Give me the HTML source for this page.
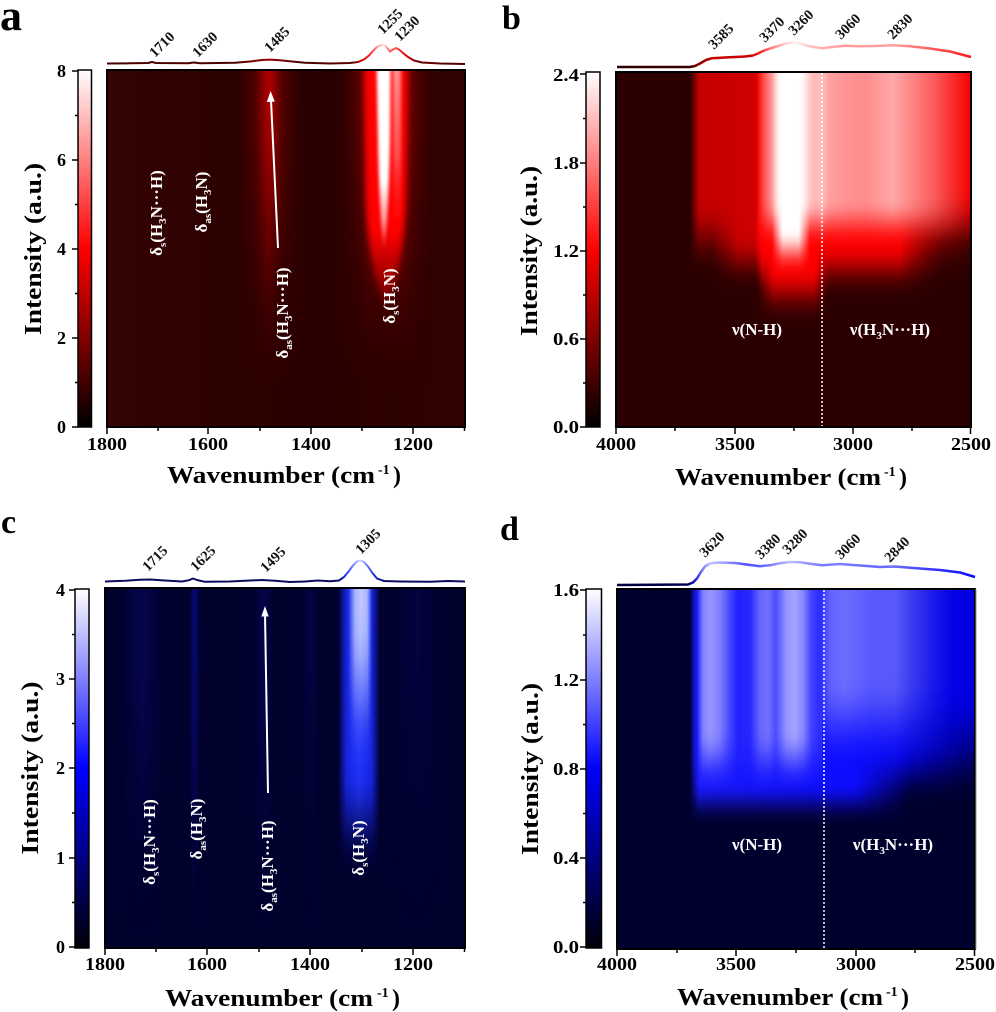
<!DOCTYPE html>
<html><head><meta charset="utf-8">
<style>
html,body{margin:0;padding:0;background:#fff;}
svg{display:block}
.tk{font-family:"Liberation Serif",serif;font-weight:bold;font-size:18px;fill:#000}
.pk{font-family:"Liberation Serif",serif;font-weight:bold;font-size:14.5px;fill:#111}
.ttl{font-family:"Liberation Serif",serif;font-weight:bold;font-size:24px;fill:#000}
.sup{font-family:"Liberation Serif",serif;font-weight:bold;font-size:14px;fill:#000}
.lb{font-family:"Liberation Serif",serif;font-weight:bold;font-size:17px;fill:#fff;text-anchor:middle}
.sb{font-size:11px}
.let{font-family:"Liberation Serif",serif;font-weight:bold;fill:#000}
</style></head><body>
<svg xmlns="http://www.w3.org/2000/svg" width="996" height="1012" viewBox="0 0 996 1012">
<defs>
<filter id="f15" filterUnits="userSpaceOnUse" x="300" y="0" width="200" height="450"><feGaussianBlur stdDeviation="1.5"/></filter>
<filter id="f36" filterUnits="userSpaceOnUse" x="300" y="0" width="200" height="450"><feGaussianBlur stdDeviation="3 6"/></filter>

<linearGradient id="cbR" x1="0" y1="1" x2="0" y2="0">
<stop offset="0" stop-color="#000"/><stop offset=".25" stop-color="#800000"/><stop offset=".5" stop-color="#ff0000"/><stop offset=".75" stop-color="#ff8080"/><stop offset="1" stop-color="#fff"/></linearGradient>
<linearGradient id="cbB" x1="0" y1="1" x2="0" y2="0">
<stop offset="0" stop-color="#000008"/><stop offset=".25" stop-color="#000080"/><stop offset=".5" stop-color="#0000ff"/><stop offset=".75" stop-color="#8080ff"/><stop offset="1" stop-color="#fff"/></linearGradient>

<!-- eased fade template (down) -->
<linearGradient id="eDown">
<stop offset="0" stop-color="#fff"/><stop offset=".15" stop-color="#fff" stop-opacity=".95"/><stop offset=".3" stop-color="#fff" stop-opacity=".8"/><stop offset=".5" stop-color="#fff" stop-opacity=".5"/><stop offset=".7" stop-color="#fff" stop-opacity=".2"/><stop offset=".85" stop-color="#fff" stop-opacity=".06"/><stop offset="1" stop-color="#fff" stop-opacity="0"/></linearGradient>
<linearGradient id="eUp">
<stop offset="0" stop-color="#fff" stop-opacity="0"/><stop offset=".15" stop-color="#fff" stop-opacity=".05"/><stop offset=".3" stop-color="#fff" stop-opacity=".2"/><stop offset=".5" stop-color="#fff" stop-opacity=".5"/><stop offset=".7" stop-color="#fff" stop-opacity=".8"/><stop offset=".85" stop-color="#fff" stop-opacity=".95"/><stop offset="1" stop-color="#fff"/></linearGradient>

<linearGradient id="vaP" href="#eDown" gradientUnits="userSpaceOnUse" x1="0" y1="60" x2="0" y2="390"/>
<linearGradient id="vaG" href="#eDown" gradientUnits="userSpaceOnUse" x1="0" y1="60" x2="0" y2="390"/>
<linearGradient id="vbA" href="#eDown" gradientUnits="userSpaceOnUse" x1="0" y1="200" x2="0" y2="275"/>
<linearGradient id="vbAx" href="#eDown" gradientUnits="userSpaceOnUse" x1="0" y1="228" x2="0" y2="292"/>
<linearGradient id="vbR" href="#eDown" gradientUnits="userSpaceOnUse" x1="0" y1="215" x2="0" y2="280"/>
<linearGradient id="vbRx" href="#eDown" gradientUnits="userSpaceOnUse" x1="0" y1="235" x2="0" y2="300"/>
<linearGradient id="vbR2" href="#eDown" gradientUnits="userSpaceOnUse" x1="0" y1="262" x2="0" y2="325"/>
<linearGradient id="vbW" href="#eDown" gradientUnits="userSpaceOnUse" x1="0" y1="198" x2="0" y2="248"/>
<linearGradient id="vbW2" href="#eDown" gradientUnits="userSpaceOnUse" x1="0" y1="228" x2="0" y2="274"/>
<linearGradient id="vbD" href="#eUp" gradientUnits="userSpaceOnUse" x1="0" y1="185" x2="0" y2="265"/>
<linearGradient id="vcB" href="#eDown" gradientUnits="userSpaceOnUse" x1="0" y1="765" x2="0" y2="875"/>
<linearGradient id="vcC" href="#eDown" gradientUnits="userSpaceOnUse" x1="0" y1="610" x2="0" y2="770"/>
<linearGradient id="vcF" href="#eDown" gradientUnits="userSpaceOnUse" x1="0" y1="620" x2="0" y2="940"/>
<linearGradient id="vdB" href="#eDown" gradientUnits="userSpaceOnUse" x1="0" y1="745" x2="0" y2="805"/>
<linearGradient id="vdBx" href="#eDown" gradientUnits="userSpaceOnUse" x1="0" y1="780" x2="0" y2="826"/>
<linearGradient id="vdD" href="#eUp" gradientUnits="userSpaceOnUse" x1="0" y1="690" x2="0" y2="790"/>
<linearGradient id="vdWA" href="#eDown" gradientUnits="userSpaceOnUse" x1="0" y1="728" x2="0" y2="792"/>
<linearGradient id="vdWB" href="#eDown" gradientUnits="userSpaceOnUse" x1="0" y1="675" x2="0" y2="768"/>

<mask id="maP" maskUnits="userSpaceOnUse" x="0" y="0" width="996" height="1012"><rect width="996" height="1012" fill="url(#vaP)"/></mask>
<mask id="maG" maskUnits="userSpaceOnUse" x="0" y="0" width="996" height="1012"><rect width="996" height="1012" fill="url(#vaG)"/></mask>
<mask id="mbA" maskUnits="userSpaceOnUse" x="0" y="0" width="996" height="1012"><rect width="996" height="1012" fill="url(#vbA)"/></mask>
<mask id="mbAx" maskUnits="userSpaceOnUse" x="0" y="0" width="996" height="1012"><rect width="996" height="1012" fill="url(#vbAx)"/></mask>
<mask id="mbR" maskUnits="userSpaceOnUse" x="0" y="0" width="996" height="1012"><rect width="996" height="1012" fill="url(#vbR)"/></mask>
<mask id="mbRx" maskUnits="userSpaceOnUse" x="0" y="0" width="996" height="1012"><rect width="996" height="1012" fill="url(#vbRx)"/></mask>
<mask id="mbR2" maskUnits="userSpaceOnUse" x="0" y="0" width="996" height="1012"><rect width="996" height="1012" fill="url(#vbR2)"/></mask>
<mask id="mbW" maskUnits="userSpaceOnUse" x="0" y="0" width="996" height="1012"><rect width="996" height="1012" fill="url(#vbW)"/></mask>
<mask id="mbW2" maskUnits="userSpaceOnUse" x="0" y="0" width="996" height="1012"><rect width="996" height="1012" fill="url(#vbW2)"/></mask>
<mask id="mbD" maskUnits="userSpaceOnUse" x="0" y="0" width="996" height="1012"><rect width="996" height="1012" fill="url(#vbD)"/></mask>
<mask id="mcB" maskUnits="userSpaceOnUse" x="0" y="0" width="996" height="1012"><rect width="996" height="1012" fill="url(#vcB)"/></mask>
<mask id="mcC" maskUnits="userSpaceOnUse" x="0" y="0" width="996" height="1012"><rect width="996" height="1012" fill="url(#vcC)"/></mask>
<mask id="mcF" maskUnits="userSpaceOnUse" x="0" y="0" width="996" height="1012"><rect width="996" height="1012" fill="url(#vcF)"/></mask>
<mask id="mdB" maskUnits="userSpaceOnUse" x="0" y="0" width="996" height="1012"><rect width="996" height="1012" fill="url(#vdB)"/></mask>
<mask id="mdBx" maskUnits="userSpaceOnUse" x="0" y="0" width="996" height="1012"><rect width="996" height="1012" fill="url(#vdBx)"/></mask>
<mask id="mdD" maskUnits="userSpaceOnUse" x="0" y="0" width="996" height="1012"><rect width="996" height="1012" fill="url(#vdD)"/></mask>
<mask id="mdWA" maskUnits="userSpaceOnUse" x="0" y="0" width="996" height="1012"><rect width="996" height="1012" fill="url(#vdWA)"/></mask>
<mask id="mdWB" maskUnits="userSpaceOnUse" x="0" y="0" width="996" height="1012"><rect width="996" height="1012" fill="url(#vdWB)"/></mask>

<!-- panel a -->
<linearGradient id="aBg" gradientUnits="userSpaceOnUse" x1="107" y1="0" x2="465" y2="0">
<stop offset="0" stop-color="#360404"/><stop offset=".12" stop-color="#320202"/><stop offset=".3" stop-color="#2e0101"/><stop offset=".6" stop-color="#2c0000"/><stop offset=".85" stop-color="#2f0101"/><stop offset="1" stop-color="#320202"/></linearGradient>
<linearGradient id="h1485" gradientUnits="userSpaceOnUse" x1="238" y1="0" x2="300" y2="0">
<stop offset="0" stop-color="#600000" stop-opacity="0"/><stop offset=".27" stop-color="#6a0000" stop-opacity=".6"/><stop offset=".42" stop-color="#a00000" stop-opacity=".9"/><stop offset=".5" stop-color="#b40000"/><stop offset=".58" stop-color="#a00000" stop-opacity=".9"/><stop offset=".73" stop-color="#6a0000" stop-opacity=".6"/><stop offset="1" stop-color="#600000" stop-opacity="0"/></linearGradient>
<linearGradient id="hGlow" gradientUnits="userSpaceOnUse" x1="340" y1="0" x2="432" y2="0">
<stop offset="0" stop-color="#600000" stop-opacity="0"/><stop offset=".2" stop-color="#700000" stop-opacity=".6"/><stop offset=".3" stop-color="#a00000" stop-opacity=".85"/><stop offset=".7" stop-color="#a00000" stop-opacity=".85"/><stop offset=".82" stop-color="#700000" stop-opacity=".6"/><stop offset="1" stop-color="#600000" stop-opacity="0"/></linearGradient>
<linearGradient id="aRed" gradientUnits="userSpaceOnUse" x1="0" y1="70" x2="0" y2="330">
<stop offset="0" stop-color="#ff0000"/><stop offset=".62" stop-color="#ff0000"/><stop offset=".82" stop-color="#d00000" stop-opacity=".6"/><stop offset="1" stop-color="#a00000" stop-opacity="0"/></linearGradient>
<linearGradient id="a1230" gradientUnits="userSpaceOnUse" x1="0" y1="70" x2="0" y2="240">
<stop offset="0" stop-color="#ff9090"/><stop offset=".5" stop-color="#ff6060" stop-opacity=".8"/><stop offset="1" stop-color="#ff0000" stop-opacity="0"/></linearGradient>
<linearGradient id="aW" gradientUnits="userSpaceOnUse" x1="0" y1="70" x2="0" y2="255">
<stop offset="0" stop-color="#fff"/><stop offset=".6" stop-color="#fff"/><stop offset=".82" stop-color="#ffd8d8" stop-opacity=".7"/><stop offset="1" stop-color="#ffa0a0" stop-opacity="0"/></linearGradient>
<linearGradient id="aLine" gradientUnits="userSpaceOnUse" x1="107" y1="0" x2="465" y2="0">
<stop offset="0" stop-color="#4a0000"/><stop offset=".358" stop-color="#4a0000"/><stop offset=".45" stop-color="#9a0000"/><stop offset=".539" stop-color="#4a0000"/><stop offset=".684" stop-color="#5a0000"/><stop offset=".712" stop-color="#c00000"/><stop offset=".735" stop-color="#ff2020"/><stop offset=".757" stop-color="#ffa0a0"/><stop offset=".774" stop-color="#ffe0e0"/><stop offset=".788" stop-color="#ff6060"/><stop offset=".807" stop-color="#ff5050"/><stop offset=".832" stop-color="#e00000"/><stop offset=".869" stop-color="#700000"/><stop offset="1" stop-color="#4a0000"/></linearGradient>

<!-- panel b -->
<linearGradient id="hbA" gradientUnits="userSpaceOnUse" x1="690" y1="0" x2="765" y2="0">
<stop offset="0" stop-color="#c00000" stop-opacity="0"/><stop offset=".12" stop-color="#c40000"/><stop offset=".67" stop-color="#cc0000"/><stop offset="1" stop-color="#d40000"/></linearGradient>
<linearGradient id="hbAx" gradientUnits="userSpaceOnUse" x1="712" y1="0" x2="765" y2="0">
<stop offset="0" stop-color="#c80000" stop-opacity="0"/><stop offset=".5" stop-color="#cc0000"/><stop offset="1" stop-color="#d40000"/></linearGradient>
<linearGradient id="hbR" gradientUnits="userSpaceOnUse" x1="755" y1="0" x2="971" y2="0">
<stop offset="0" stop-color="#ff0000" stop-opacity="0"/><stop offset=".035" stop-color="#ff0000"/><stop offset="1" stop-color="#f80000"/></linearGradient>
<linearGradient id="hbRx" gradientUnits="userSpaceOnUse" x1="755" y1="0" x2="945" y2="0">
<stop offset="0" stop-color="#ff0000" stop-opacity="0"/><stop offset=".04" stop-color="#ff0000"/><stop offset=".76" stop-color="#ff0000"/><stop offset="1" stop-color="#ff0000" stop-opacity="0"/></linearGradient>
<linearGradient id="hbR2" gradientUnits="userSpaceOnUse" x1="758" y1="0" x2="828" y2="0">
<stop offset="0" stop-color="#ff0000" stop-opacity="0"/><stop offset=".22" stop-color="#ff0000"/><stop offset=".8" stop-color="#ff0000"/><stop offset="1" stop-color="#ff0000" stop-opacity="0"/></linearGradient>
<linearGradient id="hbW" gradientUnits="userSpaceOnUse" x1="757" y1="0" x2="990" y2="0">
<stop offset="0" stop-color="#fff" stop-opacity="0"/><stop offset=".034" stop-color="#fff" stop-opacity=".35"/><stop offset=".064" stop-color="#fff" stop-opacity=".6"/><stop offset=".099" stop-color="#fff" stop-opacity=".9"/><stop offset=".129" stop-color="#fff" stop-opacity="1"/><stop offset=".172" stop-color="#fff" stop-opacity="1"/><stop offset=".206" stop-color="#fff" stop-opacity=".85"/><stop offset=".249" stop-color="#fff" stop-opacity=".72"/><stop offset=".279" stop-color="#fff" stop-opacity=".75"/><stop offset=".313" stop-color="#fff" stop-opacity=".62"/><stop offset=".378" stop-color="#fff" stop-opacity=".58"/><stop offset=".464" stop-color="#fff" stop-opacity=".55"/><stop offset=".584" stop-color="#fff" stop-opacity=".66"/><stop offset=".678" stop-color="#fff" stop-opacity=".5"/><stop offset=".764" stop-color="#fff" stop-opacity=".35"/><stop offset=".85" stop-color="#fff" stop-opacity=".15"/><stop offset=".918" stop-color="#fff" stop-opacity="0"/></linearGradient>
<linearGradient id="hbW2" gradientUnits="userSpaceOnUse" x1="772" y1="0" x2="810" y2="0">
<stop offset="0" stop-color="#fff" stop-opacity="0"/><stop offset=".28" stop-color="#fff"/><stop offset=".7" stop-color="#fff"/><stop offset="1" stop-color="#fff" stop-opacity="0"/></linearGradient>
<linearGradient id="hbD" gradientUnits="userSpaceOnUse" x1="900" y1="0" x2="971" y2="0">
<stop offset="0" stop-color="#2c0000" stop-opacity="0"/><stop offset="1" stop-color="#2c0000" stop-opacity=".9"/></linearGradient>
<linearGradient id="bLine" gradientUnits="userSpaceOnUse" x1="617" y1="0" x2="971" y2="0">
<stop offset="0" stop-color="#2a0000"/><stop offset=".206" stop-color="#3a0000"/><stop offset=".229" stop-color="#8a0000"/><stop offset=".263" stop-color="#c00000"/><stop offset=".376" stop-color="#d00000"/><stop offset=".404" stop-color="#ff2020"/><stop offset=".438" stop-color="#ff8080"/><stop offset=".475" stop-color="#ffd0d0"/><stop offset=".503" stop-color="#fff0f0"/><stop offset=".54" stop-color="#ffc8c8"/><stop offset=".58" stop-color="#ffb0b0"/><stop offset=".644" stop-color="#ff9a9a"/><stop offset=".78" stop-color="#ffa0a0"/><stop offset=".884" stop-color="#ff6060"/><stop offset="1" stop-color="#ff1818"/></linearGradient>

<!-- panel c -->
<linearGradient id="hc1305" gradientUnits="userSpaceOnUse" x1="338" y1="0" x2="380" y2="0">
<stop offset="0" stop-color="#1a2aff" stop-opacity="0"/><stop offset=".2" stop-color="#1a2aff" stop-opacity=".85"/><stop offset=".5" stop-color="#2035ff"/><stop offset=".8" stop-color="#1a2aff" stop-opacity=".85"/><stop offset="1" stop-color="#1a2aff" stop-opacity="0"/></linearGradient>
<linearGradient id="hcCore" gradientUnits="userSpaceOnUse" x1="348" y1="0" x2="372" y2="0">
<stop offset="0" stop-color="#a8b4ff" stop-opacity="0"/><stop offset=".3" stop-color="#a8b4ff"/><stop offset=".55" stop-color="#c0c8ff"/><stop offset=".8" stop-color="#a8b4ff"/><stop offset="1" stop-color="#a8b4ff" stop-opacity="0"/></linearGradient>
<linearGradient id="hcF" x1="0" y1="0" x2="1" y2="0">
<stop offset="0" stop-color="#0a0a70" stop-opacity="0"/><stop offset=".5" stop-color="#0a0a70"/><stop offset="1" stop-color="#0a0a70" stop-opacity="0"/></linearGradient>
<linearGradient id="hcF2" x1="0" y1="0" x2="1" y2="0">
<stop offset="0" stop-color="#1010b0" stop-opacity="0"/><stop offset=".5" stop-color="#1010b0"/><stop offset="1" stop-color="#1010b0" stop-opacity="0"/></linearGradient>
<linearGradient id="cLine" gradientUnits="userSpaceOnUse" x1="105" y1="0" x2="465" y2="0">
<stop offset="0" stop-color="#0c0c5a"/><stop offset=".647" stop-color="#0c0c5a"/><stop offset=".669" stop-color="#2030ff"/><stop offset=".692" stop-color="#8090ff"/><stop offset=".708" stop-color="#d0d8ff"/><stop offset=".725" stop-color="#7080ff"/><stop offset=".747" stop-color="#2030e0"/><stop offset=".778" stop-color="#0c0c60"/><stop offset="1" stop-color="#0c0c5a"/></linearGradient>

<!-- panel d -->
<linearGradient id="hdB" gradientUnits="userSpaceOnUse" x1="690" y1="0" x2="975" y2="0">
<stop offset="0" stop-color="#1a1aff" stop-opacity="0"/><stop offset=".032" stop-color="#1a1aff"/><stop offset=".53" stop-color="#0c0cff"/><stop offset="1" stop-color="#0000e0"/></linearGradient>
<linearGradient id="hdBx" gradientUnits="userSpaceOnUse" x1="690" y1="0" x2="910" y2="0">
<stop offset="0" stop-color="#1a1aff" stop-opacity="0"/><stop offset=".042" stop-color="#1a1aff"/><stop offset=".75" stop-color="#0c0cff"/><stop offset="1" stop-color="#0c0cff" stop-opacity="0"/></linearGradient>
<linearGradient id="hdD" gradientUnits="userSpaceOnUse" x1="900" y1="0" x2="975" y2="0">
<stop offset="0" stop-color="#00002e" stop-opacity="0"/><stop offset="1" stop-color="#00002e" stop-opacity=".8"/></linearGradient>
<linearGradient id="hdW" gradientUnits="userSpaceOnUse" x1="697" y1="0" x2="990" y2="0">
<stop offset="0" stop-color="#fff" stop-opacity="0"/><stop offset=".02" stop-color="#fff" stop-opacity=".45"/><stop offset=".044" stop-color="#fff" stop-opacity=".55"/><stop offset=".078" stop-color="#fff" stop-opacity=".45"/><stop offset=".113" stop-color="#fff" stop-opacity=".2"/><stop offset=".14" stop-color="#fff" stop-opacity=".05"/><stop offset=".181" stop-color="#fff" stop-opacity=".08"/><stop offset=".215" stop-color="#fff" stop-opacity=".35"/><stop offset=".242" stop-color="#fff" stop-opacity=".4"/><stop offset=".269" stop-color="#fff" stop-opacity=".25"/><stop offset=".304" stop-color="#fff" stop-opacity=".55"/><stop offset=".334" stop-color="#fff" stop-opacity=".62"/><stop offset=".362" stop-color="#fff" stop-opacity=".5"/><stop offset=".392" stop-color="#fff" stop-opacity=".2"/><stop offset=".42" stop-color="#fff" stop-opacity=".12"/><stop offset=".454" stop-color="#fff" stop-opacity=".35"/><stop offset=".505" stop-color="#fff" stop-opacity=".4"/><stop offset=".59" stop-color="#fff" stop-opacity=".33"/><stop offset=".676" stop-color="#fff" stop-opacity=".33"/><stop offset=".744" stop-color="#fff" stop-opacity=".2"/><stop offset=".812" stop-color="#fff" stop-opacity=".08"/><stop offset=".88" stop-color="#fff" stop-opacity="0"/></linearGradient>
<linearGradient id="dLine" gradientUnits="userSpaceOnUse" x1="617" y1="0" x2="975" y2="0">
<stop offset="0" stop-color="#00003a"/><stop offset=".198" stop-color="#000050"/><stop offset=".218" stop-color="#1a1ae0"/><stop offset=".24" stop-color="#8080ff"/><stop offset=".26" stop-color="#c0c0ff"/><stop offset=".302" stop-color="#a0a0ff"/><stop offset=".358" stop-color="#5050ff"/><stop offset=".4" stop-color="#6060ff"/><stop offset=".441" stop-color="#8a8aff"/><stop offset=".483" stop-color="#c0c0ff"/><stop offset=".525" stop-color="#9a9aff"/><stop offset=".573" stop-color="#7a7aff"/><stop offset=".623" stop-color="#8080ff"/><stop offset=".707" stop-color="#6a6aff"/><stop offset=".777" stop-color="#6a6aff"/><stop offset=".874" stop-color="#3838ff"/><stop offset="1" stop-color="#0a0aff"/></linearGradient>

<clipPath id="ca"><rect x="107" y="70" width="358" height="357"/></clipPath>
</defs>

<!-- ================= PANEL A ================= -->
<text class="let" x="0" y="30" font-size="44">a</text>
<polyline fill="none" stroke="url(#aLine)" stroke-width="2" stroke-linejoin="round" points="107,63.5 130,63.3 148,63 152,62 156,63 188,63.2 194,62.5 200,63.2 235,62.8 250,61.5 262,60 270,59.6 280,60.2 292,61.5 305,62.8 330,63.5 350,63 358,62 364,59.5 369,55.5 373,51 377,47 381,45 385,45.5 388,49 390,51.5 393,49.5 396,48 399,49.5 403,53 408,57 414,60.5 422,62.5 440,63.5 465,64"/>
<text class="pk" transform="translate(155,58) rotate(-45)">1710</text>
<text class="pk" transform="translate(198,58) rotate(-45)">1630</text>
<text class="pk" transform="translate(270,53) rotate(-45)">1485</text>
<text class="pk" transform="translate(383,35) rotate(-45)">1255</text>
<text class="pk" transform="translate(400,42) rotate(-45)">1230</text>

<rect x="107" y="70" width="358" height="357" fill="url(#aBg)"/>
<rect x="238" y="70" width="62" height="357" fill="url(#h1485)" mask="url(#maP)"/>
<rect x="340" y="70" width="92" height="357" fill="url(#hGlow)" mask="url(#maG)"/>
<g clip-path="url(#ca)">
<path d="M364,30 L408,30 L406,200 C404,250 396,290 386,305 C376,290 368,250 366,200 Z" fill="url(#aRed)" filter="url(#f36)"/>
<rect x="393" y="30" width="8" height="220" fill="url(#a1230)" filter="url(#f15)"/>
<path d="M376,30 L391,30 L390,140 C389,190 387,230 384,250 C381,230 379,190 378,140 Z" fill="url(#aW)" filter="url(#f15)"/>
</g>
<rect x="107" y="70" width="358" height="357" fill="none" stroke="#000" stroke-width="2"/>
<line x1="278" y1="248" x2="271" y2="100" stroke="#fff" stroke-width="2"/>
<polygon points="270.6,91 266.8,102 274.8,101.6" fill="#fff"/>
<text class="lb" transform="translate(162,213) rotate(-90)">δ<tspan class="sb" dy="4">s</tspan><tspan dy="-4">(H</tspan><tspan class="sb" dy="4">3</tspan><tspan dy="-4">N···H)</tspan></text>
<text class="lb" transform="translate(207,202) rotate(-90)">δ<tspan class="sb" dy="4">as</tspan><tspan dy="-4">(H</tspan><tspan class="sb" dy="4">3</tspan><tspan dy="-4">N)</tspan></text>
<text class="lb" transform="translate(288,313) rotate(-90)">δ<tspan class="sb" dy="4">as</tspan><tspan dy="-4">(H</tspan><tspan class="sb" dy="4">3</tspan><tspan dy="-4">N···H)</tspan></text>
<text class="lb" transform="translate(395,296) rotate(-90)">δ<tspan class="sb" dy="4">s</tspan><tspan dy="-4">(H</tspan><tspan class="sb" dy="4">3</tspan><tspan dy="-4">N)</tspan></text>
<rect x="78" y="70" width="13.5" height="357" fill="url(#cbR)" stroke="#000" stroke-width="1.5"/>
<g stroke="#000" stroke-width="1.5">
<line x1="72" y1="71" x2="78" y2="71"/><line x1="72" y1="160" x2="78" y2="160"/><line x1="72" y1="249" x2="78" y2="249"/><line x1="72" y1="338" x2="78" y2="338"/><line x1="72" y1="427" x2="78" y2="427"/>
<line x1="75" y1="115.5" x2="78" y2="115.5"/><line x1="75" y1="204.5" x2="78" y2="204.5"/><line x1="75" y1="293.5" x2="78" y2="293.5"/><line x1="75" y1="382.5" x2="78" y2="382.5"/>
</g>
<g class="tk" text-anchor="end">
<text x="66" y="77">8</text><text x="66" y="166">6</text><text x="66" y="255">4</text><text x="66" y="344">2</text><text x="66" y="433">0</text>
</g>
<g stroke="#000" stroke-width="1.5">
<line x1="107" y1="427" x2="107" y2="434"/><line x1="208" y1="427" x2="208" y2="434"/><line x1="311" y1="427" x2="311" y2="434"/><line x1="413" y1="427" x2="413" y2="434"/>
<line x1="158" y1="427" x2="158" y2="431"/><line x1="260" y1="427" x2="260" y2="431"/><line x1="362" y1="427" x2="362" y2="431"/><line x1="464.5" y1="427" x2="464.5" y2="431"/>
</g>
<g class="tk" text-anchor="middle">
<text x="107" y="450" textLength="40" lengthAdjust="spacingAndGlyphs">1800</text>
<text x="208" y="450" textLength="40" lengthAdjust="spacingAndGlyphs">1600</text>
<text x="311" y="450" textLength="40" lengthAdjust="spacingAndGlyphs">1400</text>
<text x="413" y="450" textLength="40" lengthAdjust="spacingAndGlyphs">1200</text>
</g>
<text class="ttl" x="167" y="483" textLength="208" lengthAdjust="spacingAndGlyphs">Wavenumber (cm</text>
<text class="sup" x="378" y="474">-1</text>
<text class="ttl" x="393" y="483">)</text>
<text class="ttl" transform="translate(41,249) rotate(-90)" text-anchor="middle" textLength="172" lengthAdjust="spacingAndGlyphs">Intensity (a.u.)</text>

<!-- ================= PANEL B ================= -->
<text class="let" x="502" y="29" font-size="34">b</text>
<polyline fill="none" stroke="url(#bLine)" stroke-width="2.5" stroke-linejoin="round" points="617,67 690,67 695,66 700,63.5 706,60 712,58.2 725,57.5 745,56.5 753,55.5 758,53.5 763,51 770,48.5 778,46 786,43.5 793,42.5 799,43.2 806,45.5 814,47 822,48.2 830,47.3 845,45.8 860,46.3 875,46 893,45.2 910,46.2 930,48.5 950,51.5 971,57"/>
<text class="pk" transform="translate(714,50) rotate(-45)">3585</text>
<text class="pk" transform="translate(765,43) rotate(-45)">3370</text>
<text class="pk" transform="translate(794,36) rotate(-45)">3260</text>
<text class="pk" transform="translate(841,40) rotate(-45)">3060</text>
<text class="pk" transform="translate(893,40) rotate(-45)">2830</text>

<rect x="616" y="72" width="355" height="355" fill="#2c0000"/>
<rect x="690" y="72" width="75" height="355" fill="url(#hbA)" mask="url(#mbA)"/>
<rect x="712" y="72" width="53" height="355" fill="url(#hbAx)" mask="url(#mbAx)"/>
<rect x="755" y="72" width="216" height="355" fill="url(#hbR)" mask="url(#mbR)"/>
<rect x="755" y="72" width="190" height="355" fill="url(#hbRx)" mask="url(#mbRx)"/>
<rect x="758" y="72" width="70" height="355" fill="url(#hbR2)" mask="url(#mbR2)"/>
<rect x="900" y="72" width="71" height="355" fill="url(#hbD)" mask="url(#mbD)"/>
<rect x="757" y="72" width="214" height="355" fill="url(#hbW)" mask="url(#mbW)"/>
<rect x="772" y="72" width="38" height="355" fill="url(#hbW2)" mask="url(#mbW2)"/>
<rect x="616" y="72" width="355" height="355" fill="none" stroke="#000" stroke-width="2"/>
<line x1="822" y1="73" x2="822" y2="426" stroke="#fff" stroke-width="1.5" stroke-dasharray="2,2"/>
<text class="lb" x="757" y="335">ν(N-H)</text>
<text class="lb" x="890" y="335">ν(H<tspan class="sb" dy="4">3</tspan><tspan dy="-4">N···H)</tspan></text>
<rect x="586" y="72" width="14" height="355" fill="url(#cbR)" stroke="#000" stroke-width="1.5"/>
<g stroke="#000" stroke-width="1.5">
<line x1="580" y1="74" x2="586" y2="74"/><line x1="580" y1="163" x2="586" y2="163"/><line x1="580" y1="251" x2="586" y2="251"/><line x1="580" y1="339" x2="586" y2="339"/><line x1="580" y1="427" x2="586" y2="427"/>
<line x1="583" y1="118.5" x2="586" y2="118.5"/><line x1="583" y1="207" x2="586" y2="207"/><line x1="583" y1="295" x2="586" y2="295"/><line x1="583" y1="383" x2="586" y2="383"/>
</g>
<g class="tk" text-anchor="end">
<text x="579" y="81" textLength="26" lengthAdjust="spacingAndGlyphs">2.4</text>
<text x="579" y="169" textLength="26" lengthAdjust="spacingAndGlyphs">1.8</text>
<text x="579" y="257" textLength="26" lengthAdjust="spacingAndGlyphs">1.2</text>
<text x="579" y="345" textLength="26" lengthAdjust="spacingAndGlyphs">0.6</text>
<text x="579" y="433" textLength="26" lengthAdjust="spacingAndGlyphs">0.0</text>
</g>
<g stroke="#000" stroke-width="1.5">
<line x1="616" y1="427" x2="616" y2="434"/><line x1="735" y1="427" x2="735" y2="434"/><line x1="853" y1="427" x2="853" y2="434"/><line x1="970.5" y1="427" x2="970.5" y2="434"/>
<line x1="675" y1="427" x2="675" y2="431"/><line x1="794" y1="427" x2="794" y2="431"/><line x1="912" y1="427" x2="912" y2="431"/>
</g>
<g class="tk" text-anchor="middle">
<text x="616" y="450" textLength="40" lengthAdjust="spacingAndGlyphs">4000</text>
<text x="735" y="450" textLength="40" lengthAdjust="spacingAndGlyphs">3500</text>
<text x="853" y="450" textLength="40" lengthAdjust="spacingAndGlyphs">3000</text>
<text x="971" y="450" textLength="40" lengthAdjust="spacingAndGlyphs">2500</text>
</g>
<text class="ttl" x="675" y="485" textLength="206" lengthAdjust="spacingAndGlyphs">Wavenumber (cm</text>
<text class="sup" x="884" y="476">-1</text>
<text class="ttl" x="899" y="485">)</text>
<text class="ttl" transform="translate(537,251) rotate(-90)" text-anchor="middle" textLength="170" lengthAdjust="spacingAndGlyphs">Intensity (a.u.)</text>

<!-- ================= PANEL C ================= -->
<text class="let" x="1" y="533" font-size="34">c</text>
<polyline fill="none" stroke="url(#cLine)" stroke-width="2" stroke-linejoin="round" points="105,581.5 125,580.8 140,579.7 150,579.5 165,580.5 182,581.5 189,580.2 193,578.5 197,580 205,581.8 230,581.5 250,580.5 262,580 275,580.8 290,582 305,581.5 318,580.5 330,581.2 339,580.5 344,577 349,571 353,565.5 357,561.5 360,560.5 364,562 368,566.5 372,572.5 377,578.5 384,581 400,581.5 430,581.8 448,581 465,581.5"/>
<text class="pk" transform="translate(148,572) rotate(-45)">1715</text>
<text class="pk" transform="translate(196,572) rotate(-45)">1625</text>
<text class="pk" transform="translate(266,573) rotate(-45)">1495</text>
<text class="pk" transform="translate(361,555) rotate(-45)">1305</text>

<rect x="105" y="588" width="360" height="360" fill="#01012e"/>
<rect x="120" y="588" width="45" height="360" fill="url(#hcF)" opacity=".5" mask="url(#mcF)"/>
<rect x="189" y="588" width="11" height="360" fill="url(#hcF2)" opacity=".55" mask="url(#mcF)"/>
<rect x="252" y="588" width="22" height="360" fill="url(#hcF)" opacity=".45" mask="url(#mcF)"/>
<rect x="300" y="588" width="20" height="360" fill="url(#hcF)" opacity=".3" mask="url(#mcF)"/>
<rect x="390" y="588" width="55" height="360" fill="url(#hcF)" opacity=".25" mask="url(#mcF)"/>
<rect x="338" y="588" width="42" height="360" fill="url(#hc1305)" mask="url(#mcB)"/>
<rect x="348" y="588" width="24" height="360" fill="url(#hcCore)" mask="url(#mcC)"/>
<rect x="105" y="588" width="360" height="360" fill="none" stroke="#000" stroke-width="2"/>
<line x1="268" y1="793" x2="265" y2="614" stroke="#fff" stroke-width="2"/>
<polygon points="265,606 261.3,616.5 268.7,616.5" fill="#fff"/>
<text class="lb" transform="translate(155,842) rotate(-90)">δ<tspan class="sb" dy="4">s</tspan><tspan dy="-4">(H</tspan><tspan class="sb" dy="4">3</tspan><tspan dy="-4">N···H)</tspan></text>
<text class="lb" transform="translate(202,829) rotate(-90)">δ<tspan class="sb" dy="4">as</tspan><tspan dy="-4">(H</tspan><tspan class="sb" dy="4">3</tspan><tspan dy="-4">N)</tspan></text>
<text class="lb" transform="translate(273,866) rotate(-90)">δ<tspan class="sb" dy="4">as</tspan><tspan dy="-4">(H</tspan><tspan class="sb" dy="4">3</tspan><tspan dy="-4">N···H)</tspan></text>
<text class="lb" transform="translate(364,848) rotate(-90)">δ<tspan class="sb" dy="4">s</tspan><tspan dy="-4">(H</tspan><tspan class="sb" dy="4">3</tspan><tspan dy="-4">N)</tspan></text>
<rect x="75" y="589" width="14" height="359" fill="url(#cbB)" stroke="#000" stroke-width="1.5"/>
<g stroke="#000" stroke-width="1.5">
<line x1="69" y1="590" x2="75" y2="590"/><line x1="69" y1="679" x2="75" y2="679"/><line x1="69" y1="768" x2="75" y2="768"/><line x1="69" y1="858" x2="75" y2="858"/><line x1="69" y1="947" x2="75" y2="947"/>
<line x1="72" y1="634.5" x2="75" y2="634.5"/><line x1="72" y1="723.5" x2="75" y2="723.5"/><line x1="72" y1="813" x2="75" y2="813"/><line x1="72" y1="902.5" x2="75" y2="902.5"/>
</g>
<g class="tk" text-anchor="end">
<text x="65" y="596">4</text><text x="65" y="685">3</text><text x="65" y="774">2</text><text x="65" y="864">1</text><text x="65" y="953">0</text>
</g>
<g stroke="#000" stroke-width="1.5">
<line x1="105" y1="948" x2="105" y2="955"/><line x1="207" y1="948" x2="207" y2="955"/><line x1="310" y1="948" x2="310" y2="955"/><line x1="413" y1="948" x2="413" y2="955"/>
<line x1="156" y1="948" x2="156" y2="952"/><line x1="259" y1="948" x2="259" y2="952"/><line x1="362" y1="948" x2="362" y2="952"/><line x1="464.5" y1="948" x2="464.5" y2="952"/>
</g>
<g class="tk" text-anchor="middle">
<text x="105" y="970" textLength="40" lengthAdjust="spacingAndGlyphs">1800</text>
<text x="207" y="970" textLength="40" lengthAdjust="spacingAndGlyphs">1600</text>
<text x="310" y="970" textLength="40" lengthAdjust="spacingAndGlyphs">1400</text>
<text x="413" y="970" textLength="40" lengthAdjust="spacingAndGlyphs">1200</text>
</g>
<text class="ttl" x="165" y="1006" textLength="208" lengthAdjust="spacingAndGlyphs">Wavenumber (cm</text>
<text class="sup" x="377" y="997">-1</text>
<text class="ttl" x="392" y="1006">)</text>
<text class="ttl" transform="translate(38,768) rotate(-90)" text-anchor="middle" textLength="173" lengthAdjust="spacingAndGlyphs">Intensity (a.u.)</text>

<!-- ================= PANEL D ================= -->
<text class="let" x="500" y="540" font-size="34">d</text>
<polyline fill="none" stroke="url(#dLine)" stroke-width="2.5" stroke-linejoin="round" points="617,585 688,584.5 693,582.5 697,578.5 701,572 705,566.5 710,563.5 718,562.5 735,563 750,565 760,566.2 770,565.3 780,563.2 790,562 800,562.3 812,564 822,565.2 840,564 860,565.5 880,567 895,566.5 910,567.8 940,570 960,572.5 975,577"/>
<text class="pk" transform="translate(705,558) rotate(-45)">3620</text>
<text class="pk" transform="translate(761,560) rotate(-45)">3380</text>
<text class="pk" transform="translate(788,555) rotate(-45)">3280</text>
<text class="pk" transform="translate(841,560) rotate(-45)">3060</text>
<text class="pk" transform="translate(890,563) rotate(-45)">2840</text>

<rect x="617" y="589" width="358" height="360" fill="#00002e"/>
<rect x="690" y="589" width="285" height="360" fill="url(#hdB)" mask="url(#mdB)"/>
<rect x="690" y="589" width="220" height="360" fill="url(#hdBx)" mask="url(#mdBx)"/>
<rect x="900" y="589" width="75" height="360" fill="url(#hdD)" mask="url(#mdD)"/>
<rect x="697" y="589" width="125" height="360" fill="url(#hdW)" mask="url(#mdWA)"/>
<rect x="822" y="589" width="153" height="360" fill="url(#hdW)" mask="url(#mdWB)"/>
<rect x="617" y="589" width="358" height="360" fill="none" stroke="#000" stroke-width="2"/>
<line x1="976" y1="589" x2="976" y2="949" stroke="#999" stroke-width="1"/>
<line x1="824" y1="590" x2="824" y2="948" stroke="#fff" stroke-width="1.5" stroke-dasharray="2,2"/>
<text class="lb" x="757" y="850">ν(N-H)</text>
<text class="lb" x="893" y="850">ν(H<tspan class="sb" dy="4">3</tspan><tspan dy="-4">N···H)</tspan></text>
<rect x="586" y="589" width="15.5" height="359" fill="url(#cbB)" stroke="#000" stroke-width="1.5"/>
<g stroke="#000" stroke-width="1.5">
<line x1="580" y1="590" x2="586" y2="590"/><line x1="580" y1="680" x2="586" y2="680"/><line x1="580" y1="769" x2="586" y2="769"/><line x1="580" y1="858" x2="586" y2="858"/><line x1="580" y1="947" x2="586" y2="947"/>
<line x1="583" y1="635" x2="586" y2="635"/><line x1="583" y1="724.5" x2="586" y2="724.5"/><line x1="583" y1="813.5" x2="586" y2="813.5"/><line x1="583" y1="902.5" x2="586" y2="902.5"/>
</g>
<g class="tk" text-anchor="end">
<text x="579" y="596" textLength="26" lengthAdjust="spacingAndGlyphs">1.6</text>
<text x="579" y="686" textLength="26" lengthAdjust="spacingAndGlyphs">1.2</text>
<text x="579" y="775" textLength="26" lengthAdjust="spacingAndGlyphs">0.8</text>
<text x="579" y="864" textLength="26" lengthAdjust="spacingAndGlyphs">0.4</text>
<text x="579" y="953" textLength="26" lengthAdjust="spacingAndGlyphs">0.0</text>
</g>
<g stroke="#000" stroke-width="1.5">
<line x1="617" y1="949" x2="617" y2="956"/><line x1="736" y1="949" x2="736" y2="956"/><line x1="856" y1="949" x2="856" y2="956"/><line x1="974.5" y1="949" x2="974.5" y2="956"/>
<line x1="677" y1="949" x2="677" y2="953"/><line x1="796" y1="949" x2="796" y2="953"/><line x1="915" y1="949" x2="915" y2="953"/>
</g>
<g class="tk" text-anchor="middle">
<text x="617" y="970" textLength="40" lengthAdjust="spacingAndGlyphs">4000</text>
<text x="736" y="970" textLength="40" lengthAdjust="spacingAndGlyphs">3500</text>
<text x="856" y="970" textLength="40" lengthAdjust="spacingAndGlyphs">3000</text>
<text x="975" y="970" textLength="40" lengthAdjust="spacingAndGlyphs">2500</text>
</g>
<text class="ttl" x="677" y="1005" textLength="206" lengthAdjust="spacingAndGlyphs">Wavenumber (cm</text>
<text class="sup" x="886" y="996">-1</text>
<text class="ttl" x="901" y="1005">)</text>
<text class="ttl" transform="translate(538,769) rotate(-90)" text-anchor="middle" textLength="172" lengthAdjust="spacingAndGlyphs">Intensity (a.u.)</text>
</svg>
</body></html>
